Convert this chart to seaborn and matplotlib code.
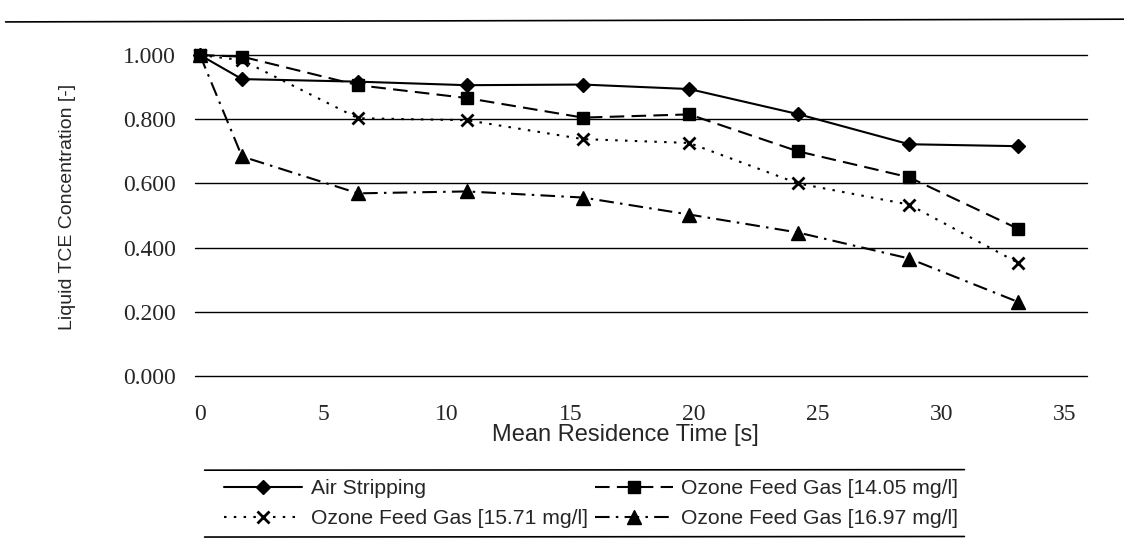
import matplotlib
matplotlib.use("Agg")
import matplotlib.pyplot as plt
import seaborn as sns
from matplotlib.lines import Line2D

# Data
residence_time = [0, 1.7, 6.4, 10.8, 15.5, 19.8, 24.2, 28.7, 33.1]
air_stripping = [1.000, 0.925, 0.917, 0.906, 0.908, 0.894, 0.816, 0.722, 0.716]
ozone_1405 = [1.000, 0.995, 0.906, 0.866, 0.805, 0.815, 0.700, 0.619, 0.459]
ozone_1571 = [1.000, 0.984, 0.803, 0.797, 0.738, 0.726, 0.600, 0.534, 0.353]
ozone_1697 = [1.000, 0.684, 0.569, 0.575, 0.556, 0.503, 0.447, 0.366, 0.231]

series_names = [
    "Air Stripping",
    "Ozone Feed Gas [14.05 mg/l]",
    "Ozone Feed Gas [15.71 mg/l]",
    "Ozone Feed Gas [16.97 mg/l]",
]
x_ticks = [0, 5, 10, 15, 20, 25, 30, 35]
y_ticks = [0.0, 0.2, 0.4, 0.6, 0.8, 1.0]

sns.set_style("white")
plt.rcParams["font.family"] = ["Liberation Sans", "DejaVu Sans"]

fig = plt.figure(figsize=(11.24, 5.48), dpi=100)
ax = fig.add_axes([0.1735, 0.3139, 0.7936, 0.5857])

styles = [
    (air_stripping, "D", 7, "-"),
    (ozone_1405, "s", 9, (0, (7, 3.5))),
    (ozone_1571, "x", 9, (0, (1.2, 3.5))),
    (ozone_1697, "^", 10, (0, (7, 3, 1.2, 3))),
]
for name, (vals, mk, ms, ls) in zip(series_names, styles):
    sns.lineplot(
        x=residence_time, y=vals, ax=ax, color="black", label=name,
        marker=mk, markersize=ms, markeredgewidth=2 if mk == "x" else 1,
        markeredgecolor="black", linestyle=ls, linewidth=1.5,
        clip_on=False, errorbar=None, legend=False,
    )

ax.set_xlim(-0.2, 35.9)
ax.set_ylim(0, 1)
ax.set_xticks(x_ticks)
ax.set_yticks(y_ticks)
ax.set_yticklabels([f"{v:.3f}" for v in y_ticks])
for lbl in ax.get_xticklabels() + ax.get_yticklabels():
    lbl.set_family(["Liberation Serif", "DejaVu Serif"])
    lbl.set_fontsize(17)
ax.tick_params(axis="x", length=0, pad=20)
ax.tick_params(axis="y", length=0, pad=14)
ax.grid(axis="y", color="black", linewidth=1.0)
ax.grid(axis="x", visible=False)
for gl in ax.get_ygridlines():
    gl.set_clip_on(False)
for sp in ax.spines.values():
    sp.set_visible(False)

ax.set_xlabel("Mean Residence Time [s]", fontsize=17)
ax.xaxis.set_label_coords(0.483, -0.150)
ax.set_ylabel("Liquid TCE Concentration [-]", fontsize=14, va="center")
ax.yaxis.set_label_coords(-0.1435, 0.526)

# legend: rows filled column-first, so reorder
handles = ax.get_lines()
order = [0, 2, 1, 3]
fig.legend(
    [handles[i] for i in order], [series_names[i] for i in order],
    ncol=2, loc="center", bbox_to_anchor=(0.526, 0.081),
    frameon=False, fontsize=15.2, handlelength=3.7, handletextpad=0.4,
    columnspacing=0.35, labelspacing=0.5, borderpad=0,
)

# rules of the scanned page
fig.add_artist(Line2D([0.005, 1.0], [0.96, 0.965], color="black", lw=1.2))
fig.add_artist(Line2D([0.182, 0.858], [0.142, 0.143], color="black", lw=1.2))
fig.add_artist(Line2D([0.182, 0.858], [0.020, 0.021], color="black", lw=1.2))

fig.savefig("out.png", dpi=100)
